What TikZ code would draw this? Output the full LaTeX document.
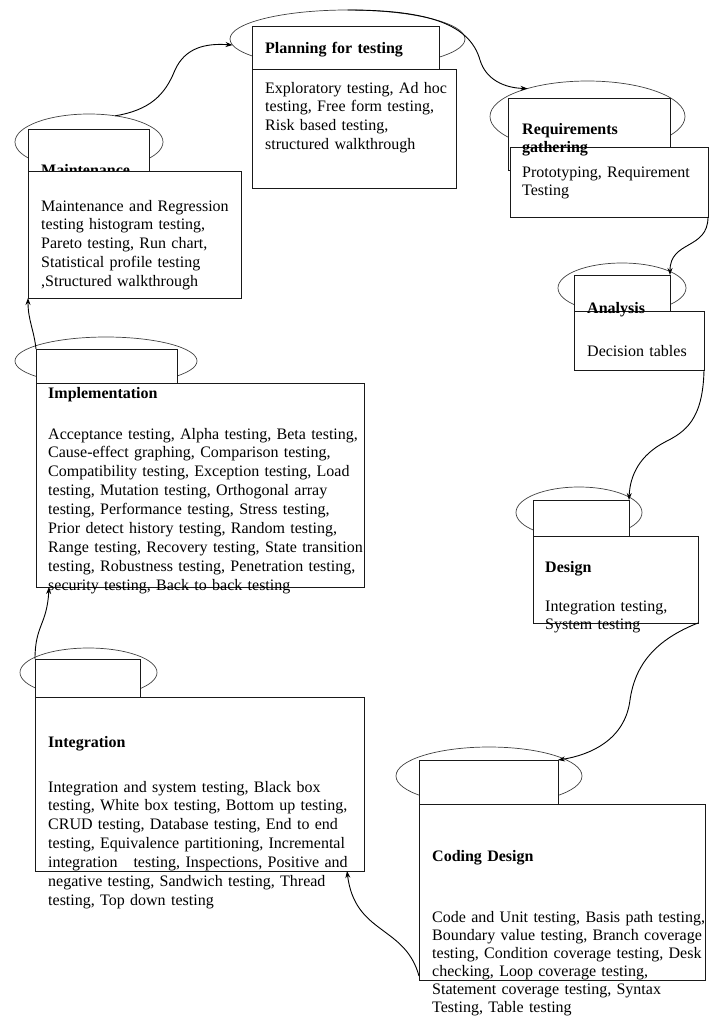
\documentclass[tikz,border=0pt]{standalone}
\usepackage{fontspec}
\setmainfont{Liberation Serif}
\usetikzlibrary{shapes.geometric, arrows.meta}

\newcommand{\stagefont}{\fontsize{16}{18.9}\selectfont}

\begin{document}
\begin{tikzpicture}[x=1pt, y=1pt,
	stageoval/.style={draw=black!75, line width=0.7pt, ellipse, inner sep=0pt, outer sep=0pt},
	stagetab/.style={draw=black!90, line width=0.9pt, fill=white, inner sep=0pt, outer sep=0pt, anchor=north west},
	stagebox/.style={draw=black!90, line width=0.9pt, fill=white, inner sep=0pt, outer sep=0pt, anchor=north west},
	stagetitle/.style={anchor=base west, inner sep=0pt, text width=200pt, align=left, font=\stagefont\bfseries},
	stagetext/.style={anchor=base west, inner sep=0pt, text width=330pt, align=left, font=\stagefont},
	flow/.style={-{Stealth[length=7pt, width=5pt]}, line width=0.9pt}]
	\useasboundingbox (0,0) rectangle (710,-1018);

	% Maintenance
	\node[stageoval, minimum width=148pt, minimum height=56pt] (maintoval) at (89,-142) {};
	\node[stagetab, minimum width=121pt, minimum height=43pt] (mainttab) at (28,-129) {};
	\node[stagetitle] (mainttitle) at (41,-175) {Maintenance};
	\node[stagebox, minimum width=213pt, minimum height=127pt] (maintbox) at (28,-171) {};
	\node[stagetext] (mainttext) at (41,-211) {Maintenance and Regression\\testing histogram testing,\\Pareto testing, Run chart,\\Statistical profile testing\\,Structured walkthrough};

	% Planning for testing
	\node[stageoval, minimum width=235pt, minimum height=58pt] (planoval) at (347.5,-39) {};
	\node[stagetab, minimum width=187pt, minimum height=43pt] (plantab) at (252,-26) {};
	\node[stagetitle] (plantitle) at (265,-53) {Planning for testing};
	\node[stagebox, minimum width=204pt, minimum height=119pt] (planbox) at (252,-69) {};
	\node[stagetext] (plantext) at (265,-93) {Exploratory testing, Ad hoc\\testing, Free form testing,\\Risk based testing,\\structured walkthrough};

	% Requirements gathering
	\node[stageoval, minimum width=195pt, minimum height=71pt] (reqoval) at (587.5,-116.5) {};
	\node[stagetab, minimum width=162pt, minimum height=72pt] (reqtab) at (508,-98) {};
	\node[stagebox, minimum width=198pt, minimum height=70pt] (reqbox) at (510,-147) {};
	\node[stagetitle] (reqtitle) at (522,-134) {Requirements\\gathering};
	\node[stagetext] (reqtext) at (522,-177) {Prototyping, Requirement\\Testing};

	% Analysis
	\node[stageoval, minimum width=128pt, minimum height=50pt] (analoval) at (622,-288) {};
	\node[stagetab, minimum width=96pt, minimum height=36pt] (analtab) at (574,-275) {};
	\node[stagebox, minimum width=130pt, minimum height=59pt] (analbox) at (574,-311) {};
	\node[stagetitle] (analtitle) at (587,-313) {Analysis};
	\node[stagetext] (analtext) at (587,-356) {Decision tables};

	% Design
	\node[stageoval, minimum width=126pt, minimum height=51pt] (designoval) at (579,-512.5) {};
	\node[stagetab, minimum width=96pt, minimum height=36pt] (designtab) at (533,-500) {};
	\node[stagebox, minimum width=165pt, minimum height=87pt] (designbox) at (533,-536) {};
	\node[stagetitle] (designtitle) at (545,-572) {Design};
	\node[stagetext] (designtext) at (545,-611) {Integration testing,\\System testing};

	% Coding Design
	\node[stageoval, minimum width=186pt, minimum height=58pt] (codingoval) at (489,-776) {};
	\node[stagetab, minimum width=139pt, minimum height=44pt] (codingtab) at (419,-760) {};
	\node[stagebox, minimum width=286pt, minimum height=176pt] (codingbox) at (419,-804) {};
	\node[stagetitle] (codingtitle) at (432,-861) {Coding Design};
	\node[stagetext, font=\fontsize{16}{18}\selectfont] (codingtext) at (432,-922) {Code and Unit testing, Basis path testing,\\Boundary value testing, Branch coverage\\testing, Condition coverage testing, Desk\\checking, Loop coverage testing,\\Statement coverage testing, Syntax\\Testing, Table testing};

	% Integration
	\node[stageoval, minimum width=137pt, minimum height=49pt] (integoval) at (88.5,-672.5) {};
	\node[stagetab, minimum width=105pt, minimum height=38pt] (integtab) at (35,-659) {};
	\node[stagebox, minimum width=329pt, minimum height=174pt] (integbox) at (35,-697) {};
	\node[stagetitle] (integtitle) at (48,-747) {Integration};
	\node[stagetext] (integtext) at (48,-792) {Integration and system testing, Black box\\testing, White box testing, Bottom up testing,\\CRUD testing, Database testing, End to end\\testing, Equivalence partitioning, Incremental\\integration \ \ testing, Inspections, Positive and\\negative testing, Sandwich testing, Thread\\testing, Top down testing};

	% Implementation
	\node[stageoval, minimum width=182pt, minimum height=48pt] (imploval) at (106,-361) {};
	\node[stagetab, minimum width=141pt, minimum height=34pt] (impltab) at (36,-349) {};
	\node[stagebox, minimum width=328pt, minimum height=204pt] (implbox) at (36,-383) {};
	\node[stagetitle] (impltitle) at (48,-398) {Implementation};
	\node[stagetext] (impltext) at (48,-439) {Acceptance testing, Alpha testing, Beta testing,\\Cause-effect graphing, Comparison testing,\\Compatibility testing, Exception testing, Load\\testing, Mutation testing, Orthogonal array\\testing, Performance testing, Stress testing,\\Prior detect history testing, Random testing,\\Range testing, Recovery testing, State transition\\testing, Robustness testing, Penetration testing,\\security testing, Back to back testing};

	% connectors
	\draw[flow] (maintoval.45) .. controls (150,-110) and (165,-95) .. (175,-70) .. controls (185,-48) and (205,-43) .. (planoval.183);
	\draw[flow] (planoval.north) .. controls (430,-10) and (470,-25) .. (480,-60) .. controls (486,-80) and (505,-88) .. (reqoval.155);
	\draw[flow] (reqbox.south east) .. controls (708,-250) and (670,-240) .. (analtab.north east);
	\draw[flow] (analbox.south east) .. controls (703,-420) and (685,-432) .. (665,-442) .. controls (640,-455) and (630,-475) .. (designtab.north east);
	\draw[flow] (designbox.south east) .. controls (655,-640) and (635,-665) .. (630,-700) .. controls (625,-740) and (590,-755) .. (codingtab.north east);
	\draw[flow] ([yshift=4pt]codingbox.south west) .. controls (405,-925) and (355,-935) .. ([xshift=-17pt]integbox.south east);
	\draw[flow] (integtab.north west) .. controls (35,-625) and (47,-625) .. ([xshift=13pt]implbox.south west);
	\draw[flow] (impltab.north west) .. controls (34,-330) and (28,-320) .. (maintbox.south west);
\end{tikzpicture}
\end{document}
